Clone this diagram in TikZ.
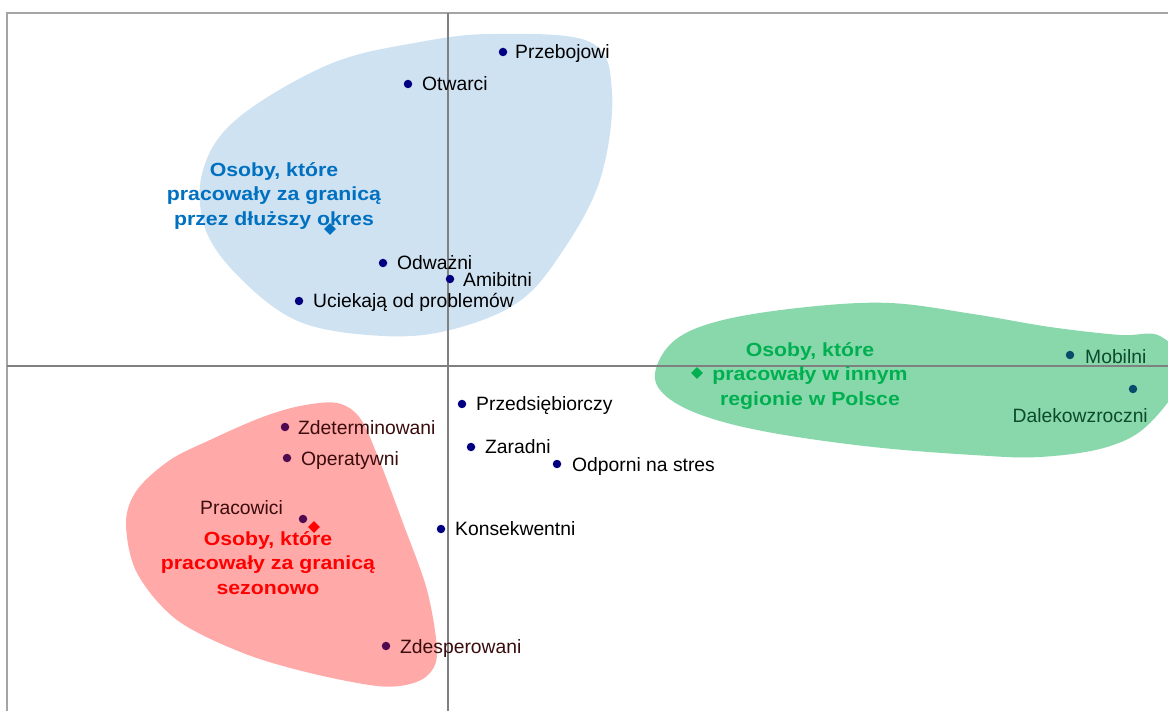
\documentclass[tikz,border=0pt]{standalone}
\usepackage{fontspec}
\setmainfont{Liberation Sans}
\newfontfamily\grpfont[FakeStretch=1.12]{Liberation Sans}
\usepackage{tikz}
\usetikzlibrary{shapes.geometric}
\definecolor{blobblue}{HTML}{CFE2F2}
\definecolor{blobgreen}{HTML}{88D8AC}
\definecolor{blobred}{HTML}{FFA9A9}
\definecolor{lblblue}{HTML}{0070C0}
\definecolor{lblgreen}{HTML}{00B050}
\definecolor{lblred}{HTML}{FF0000}
\definecolor{dotnavy}{HTML}{000080}
\definecolor{dotplum}{HTML}{500A50}
\definecolor{dotteal}{HTML}{0A4A6A}
\definecolor{txtred}{HTML}{3A0C0C}
\definecolor{txtgreen}{HTML}{0C4A2A}
\definecolor{framegray}{HTML}{A5A5A5}
\definecolor{axisgray}{HTML}{808080}
\tikzstyle{frame}=[draw=framegray, line width=2pt]
\tikzstyle{axis}=[draw=axisgray, line width=1.5pt]
\tikzstyle{dot}=[circle, fill=dotnavy, inner sep=0pt, minimum size=8.5pt]
\tikzstyle{rdot}=[dot, fill=dotplum]
\tikzstyle{gdot}=[dot, fill=dotteal]
\tikzstyle{trait}=[inner sep=0pt, anchor=base west, font=\fontsize{19.3}{22}\selectfont]
\tikzstyle{group}=[inner sep=0pt, align=center, font=\grpfont\bfseries\fontsize{19}{24.5}\selectfont]
\tikzstyle{grpmarker}=[diamond, inner sep=0pt, minimum size=12pt]

\begin{document}
\begin{tikzpicture}[x=1pt, y=-1pt]
    \useasboundingbox (0,0) rectangle (1168,711);
    % clusters
    \fill[blobblue] plot[smooth cycle, tension=0.6] coordinates {(494,34) (590,42) (612,92) (600,180) (560,255) (517,303) (450,330) (383,336) (300,322) (240,278) (205,228) (203,170) (238,118) (330,64) (420,42)};
    \fill[blobgreen] plot[smooth cycle, tension=0.6] coordinates {(655,373) (675,340) (723,320) (807,307) (890,303) (973,314) (1050,327) (1120,335) (1160,336) (1185,370) (1150,423) (1107,447) (1040,457) (973,455) (873,447) (773,433) (707,417) (667,397)};
    \fill[blobred] plot[smooth cycle, tension=0.55] coordinates {(337,403) (360,418) (378,457) (403,523) (427,590) (437,650) (430,673) (410,684) (377,686) (310,673) (243,653) (177,620) (137,573) (126,523) (137,490) (170,460) (210,440) (260,418) (300,406)};
    % frame and axes
    \coordinate (fbl) at (7,711);
    \coordinate (ftl) at (7,13);
    \coordinate (ftr) at (1168,13);
    \coordinate (ytop) at (448,13);
    \coordinate (ybot) at (448,711);
    \coordinate (xleft) at (7,366);
    \coordinate (xright) at (1168,366);
    \draw[frame] (fbl) -- (ftl) -- (ftr);
    \draw[axis] (ytop) -- (ybot);
    \draw[axis] (xleft) -- (xright);
    % traits
    \node[dot] (przeb) at (503,52) {};
    \node[trait] (Tprzeb) at (515,58.5) {Przebojowi};
    \node[dot] (otw) at (408,84) {};
    \node[trait] (Totw) at (422,90.5) {Otwarci};
    \node[dot] (odw) at (383,263) {};
    \node[trait] (Todw) at (397,269.5) {Odważni};
    \node[dot] (amb) at (450,279) {};
    \node[trait] (Tamb) at (463,286.5) {Amibitni};
    \node[dot] (ucie) at (299,301) {};
    \node[trait] (Tucie) at (313,307.5) {Uciekają od problemów};
    \node[dot] (przeds) at (462,404) {};
    \node[trait] (Tprzeds) at (476,410.5) {Przedsiębiorczy};
    \node[dot] (zar) at (471,447) {};
    \node[trait] (Tzar) at (485,453.5) {Zaradni};
    \node[dot] (odp) at (557,464) {};
    \node[trait] (Todp) at (572,471.5) {Odporni na stres};
    \node[dot] (kons) at (441,529) {};
    \node[trait] (Tkons) at (455,535.5) {Konsekwentni};
    \node[gdot] (mob) at (1070,355) {};
    \node[trait, text=txtgreen] (Tmob) at (1085,363.5) {Mobilni};
    \node[gdot] (dal) at (1133,389) {};
    \node[trait, text=txtgreen, anchor=base east] (Tdal) at (1148,422.5) {Dalekowzroczni};
    \node[rdot] (zdet) at (285,427) {};
    \node[trait, text=txtred] (Tzdet) at (298,434.5) {Zdeterminowani};
    \node[rdot] (oper) at (287,458) {};
    \node[trait, text=txtred] (Toper) at (301,465.5) {Operatywni};
    \node[rdot] (prac) at (303,519) {};
    \node[trait, text=txtred, anchor=base east] (Tprac) at (283,514.5) {Pracowici};
    \node[rdot] (zdes) at (386,646) {};
    \node[trait, text=txtred] (Tzdes) at (400,653.5) {Zdesperowani};
    % groups
    \node[grpmarker, fill=lblblue] (dlugo) at (330,229) {};
    \node[group, text=lblblue] (Gdlugo) at (274,196) {Osoby, które\\pracowały za granicą\\przez dłuższy okres};
    \node[grpmarker, fill=lblgreen] (kraj) at (697,373) {};
    \node[group, text=lblgreen] (Gkraj) at (810,376) {Osoby, które\\pracowały w innym\\regionie w Polsce};
    \node[grpmarker, fill=lblred] (sezon) at (314,527) {};
    \node[group, text=lblred] (Gsezon) at (268,563) {Osoby, które\\pracowały za granicą\\sezonowo};
\end{tikzpicture}
\end{document}
